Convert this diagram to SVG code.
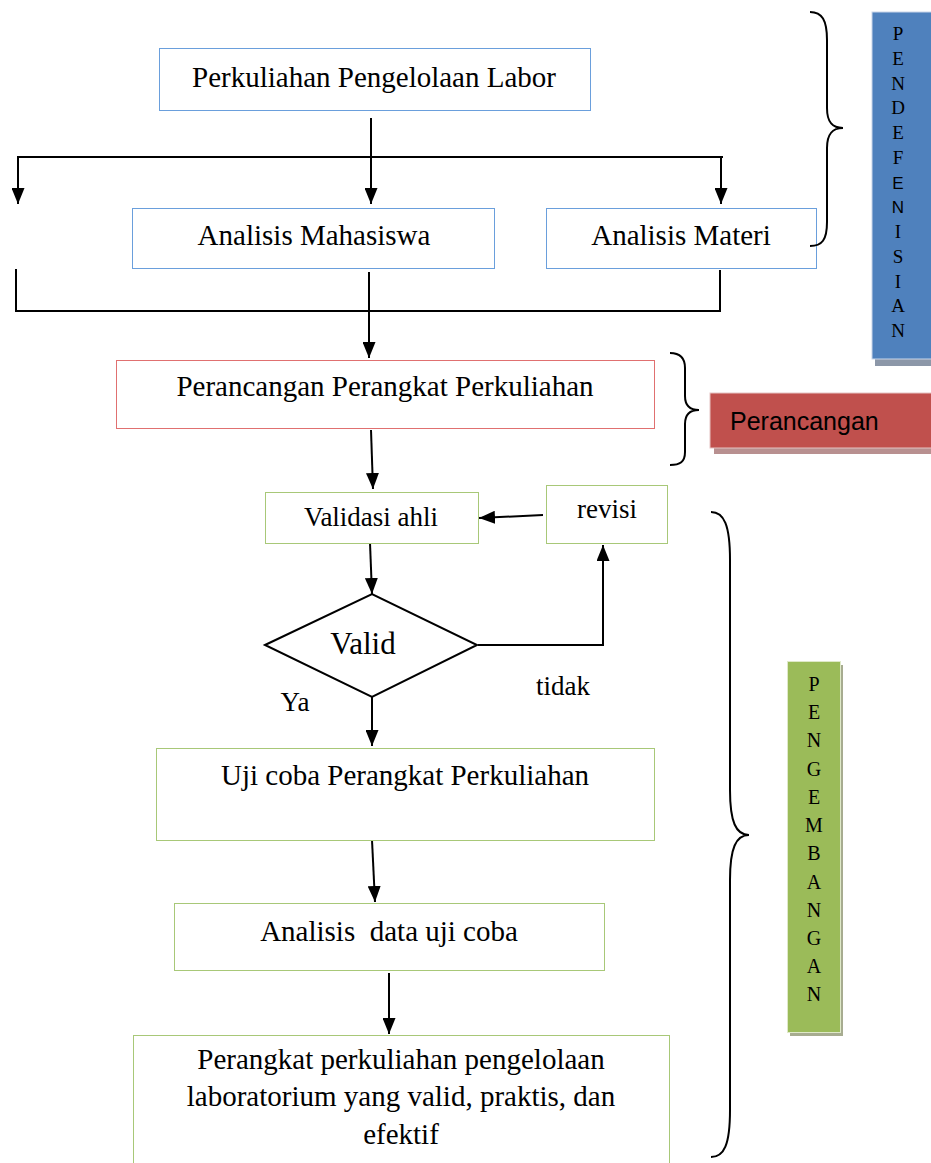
<svg xmlns="http://www.w3.org/2000/svg" width="931" height="1163" viewBox="0 0 931 1163">
<style>
.bb{fill:#fff;stroke:#6a9fdc;stroke-width:1}
.rb{fill:#fff;stroke:#e07070;stroke-width:1}
.gb{fill:#fff;stroke:#a8c878;stroke-width:1}
.t{font-family:"Liberation Serif","Times New Roman",serif;font-size:29px;fill:#000;text-anchor:middle}
.s{font-family:"Liberation Serif","Times New Roman",serif;font-size:27px;fill:#000;text-anchor:middle}
.v{font-family:"Liberation Serif","Times New Roman",serif;font-size:19px;fill:#000;text-anchor:middle}
.vs{font-family:"Liberation Sans",Arial,sans-serif;font-size:17px;fill:#000;text-anchor:middle}
.c{fill:none;stroke:#000;stroke-width:2}
.br{fill:none;stroke:#000;stroke-width:2}
</style>
<defs>
<marker id="ah" markerWidth="16" markerHeight="13" refX="16" refY="6.5" orient="auto" markerUnits="userSpaceOnUse">
<path d="M0,0 L16,6.5 L0,13 Z" fill="#000"/>
</marker>
</defs>
<rect width="931" height="1163" fill="#fff"/>

<g id="connectors">
<line class="c" x1="371" y1="118" x2="371" y2="204" marker-end="url(#ah)"/>
<polyline class="c" points="18,190 18,157 723,157"/>
<line class="c" x1="18" y1="157" x2="18" y2="204" marker-end="url(#ah)"/>
<line class="c" x1="721" y1="157" x2="721" y2="204" marker-end="url(#ah)"/>
<polyline class="c" points="16,269 16,311 720,311 720,270"/>
<line class="c" x1="369" y1="272" x2="369" y2="358" marker-end="url(#ah)"/>
<line class="c" x1="371" y1="430" x2="373" y2="489" marker-end="url(#ah)"/>
<line class="c" x1="543" y1="515" x2="479" y2="518" marker-end="url(#ah)"/>
<line class="c" x1="370" y1="543" x2="372" y2="594" marker-end="url(#ah)"/>
<polyline class="c" points="478,645 603,645 603,545" marker-end="url(#ah)"/>
<line class="c" x1="372" y1="697" x2="372" y2="746" marker-end="url(#ah)"/>
<line class="c" x1="372" y1="840" x2="375" y2="902" marker-end="url(#ah)"/>
<line class="c" x1="389" y1="973" x2="389" y2="1034" marker-end="url(#ah)"/>
</g>

<g id="n-perkuliahan">
<rect class="bb" x="159.5" y="48.5" width="431" height="62"/>
<text class="t" x="374" y="87">Perkuliahan Pengelolaan Labor</text>
</g>
<g id="n-mahasiswa">
<rect class="bb" x="132.5" y="208.5" width="362" height="60"/>
<text class="t" x="314" y="245">Analisis Mahasiswa</text>
</g>
<g id="n-materi">
<rect class="bb" x="546.5" y="208.5" width="270" height="60"/>
<text class="t" x="681" y="245">Analisis Materi</text>
</g>
<g id="n-perancangan">
<rect class="rb" x="116.5" y="360.5" width="538" height="68"/>
<text class="t" x="385" y="396">Perancangan Perangkat Perkuliahan</text>
</g>
<g id="n-validasi">
<rect class="gb" x="265.5" y="492.5" width="213" height="51"/>
<text class="s" x="371" y="526">Validasi ahli</text>
</g>
<g id="n-revisi">
<rect class="gb" x="546.5" y="485.5" width="121" height="58"/>
<text class="s" x="607" y="518">revisi</text>
</g>
<g id="n-valid">
<polygon points="265,645 372,594 477,645 372,697" fill="#fff" stroke="#000" stroke-width="2"/>
<text class="t" x="363" y="654" style="font-size:31px">Valid</text>
</g>
<g id="l-tidak"><text class="s" x="563" y="695">tidak</text></g>
<g id="l-ya"><text class="s" x="295" y="711">Ya</text></g>
<g id="n-ujicoba">
<rect class="gb" x="156.5" y="748.5" width="498" height="92"/>
<text class="t" x="405" y="785">Uji coba Perangkat Perkuliahan</text>
</g>
<g id="n-analisisdata">
<rect class="gb" x="174.5" y="903.5" width="430" height="67"/>
<text class="t" x="389" y="941" xml:space="preserve">Analisis  data uji coba</text>
</g>
<g id="n-hasil">
<rect class="gb" x="133.5" y="1035.5" width="536" height="140"/>
<text class="t" x="401" y="1069">Perangkat perkuliahan pengelolaan</text>
<text class="t" x="401" y="1106">laboratorium yang valid, praktis, dan</text>
<text class="t" x="401" y="1144">efektif</text>
</g>

<g id="brace-pendefenisian">
<path class="br" d="M810,12 C822,12 827,20 827,40 L827,108 C827,122 832,128 843,128 C832,128 827,134 827,148 L827,222 C827,240 822,246 810,246"/>
</g>
<g id="brace-perancangan">
<path class="br" d="M670,353 C680,353 685,358 685,368 L685,396 C685,405 690,410 699,410 C690,410 685,415 685,424 L685,452 C685,462 680,465 670,465"/>
</g>
<g id="brace-pengembangan">
<path class="br" d="M711,512 C724,512 730,525 730,560 L730,790 C730,822 736,835 749,835 C736,835 730,848 730,880 L730,1110 C730,1145 724,1157 711,1157"/>
</g>

<g id="label-pendefenisian">
<rect x="875" y="17" width="60" height="349" fill="#8c97a8"/>
<rect x="872" y="12" width="62" height="347" fill="#4f81bd" stroke="#c9d6ea" stroke-width="1"/>
<text class="v" x="898" y="40">P</text>
<text class="v" x="898" y="65">E</text>
<text class="v" x="898" y="90">N</text>
<text class="v" x="898" y="114">D</text>
<text class="v" x="898" y="139">E</text>
<text class="v" x="898" y="164">F</text>
<text class="vs" x="898" y="189">E</text>
<text class="vs" x="898" y="213">N</text>
<text class="v" x="898" y="238">I</text>
<text class="v" x="898" y="263">S</text>
<text class="v" x="898" y="288">I</text>
<text class="v" x="898" y="312">A</text>
<text class="v" x="898" y="337">N</text>
</g>
<g id="label-perancangan">
<rect x="714" y="398" width="220" height="56" fill="#b89090"/>
<rect x="710" y="393" width="224" height="55" fill="#c0504d" stroke="#e6c4c3" stroke-width="1"/>
<text x="730" y="430" style="font-family:'Liberation Sans',Arial,sans-serif;font-size:25px;fill:#000">Perancangan</text>
</g>
<g id="label-pengembangan">
<rect x="790" y="665" width="53" height="371" fill="#a7ac90"/>
<rect x="787.5" y="661.5" width="53" height="371" fill="#9bbb59" stroke="#dfe9c8" stroke-width="1"/>
<text class="v" x="814" y="691" style="font-size:20px">P</text>
<text class="v" x="814" y="719" style="font-size:20px">E</text>
<text class="v" x="814" y="747" style="font-size:20px">N</text>
<text class="v" x="814" y="776" style="font-size:20px">G</text>
<text class="v" x="814" y="804" style="font-size:20px">E</text>
<text class="v" x="814" y="832" style="font-size:20px">M</text>
<text class="v" x="814" y="860" style="font-size:20px">B</text>
<text class="v" x="814" y="889" style="font-size:20px">A</text>
<text class="v" x="814" y="917" style="font-size:20px">N</text>
<text class="v" x="814" y="945" style="font-size:20px">G</text>
<text class="v" x="814" y="973" style="font-size:20px">A</text>
<text class="v" x="814" y="1001" style="font-size:20px">N</text>
</g>
</svg>
